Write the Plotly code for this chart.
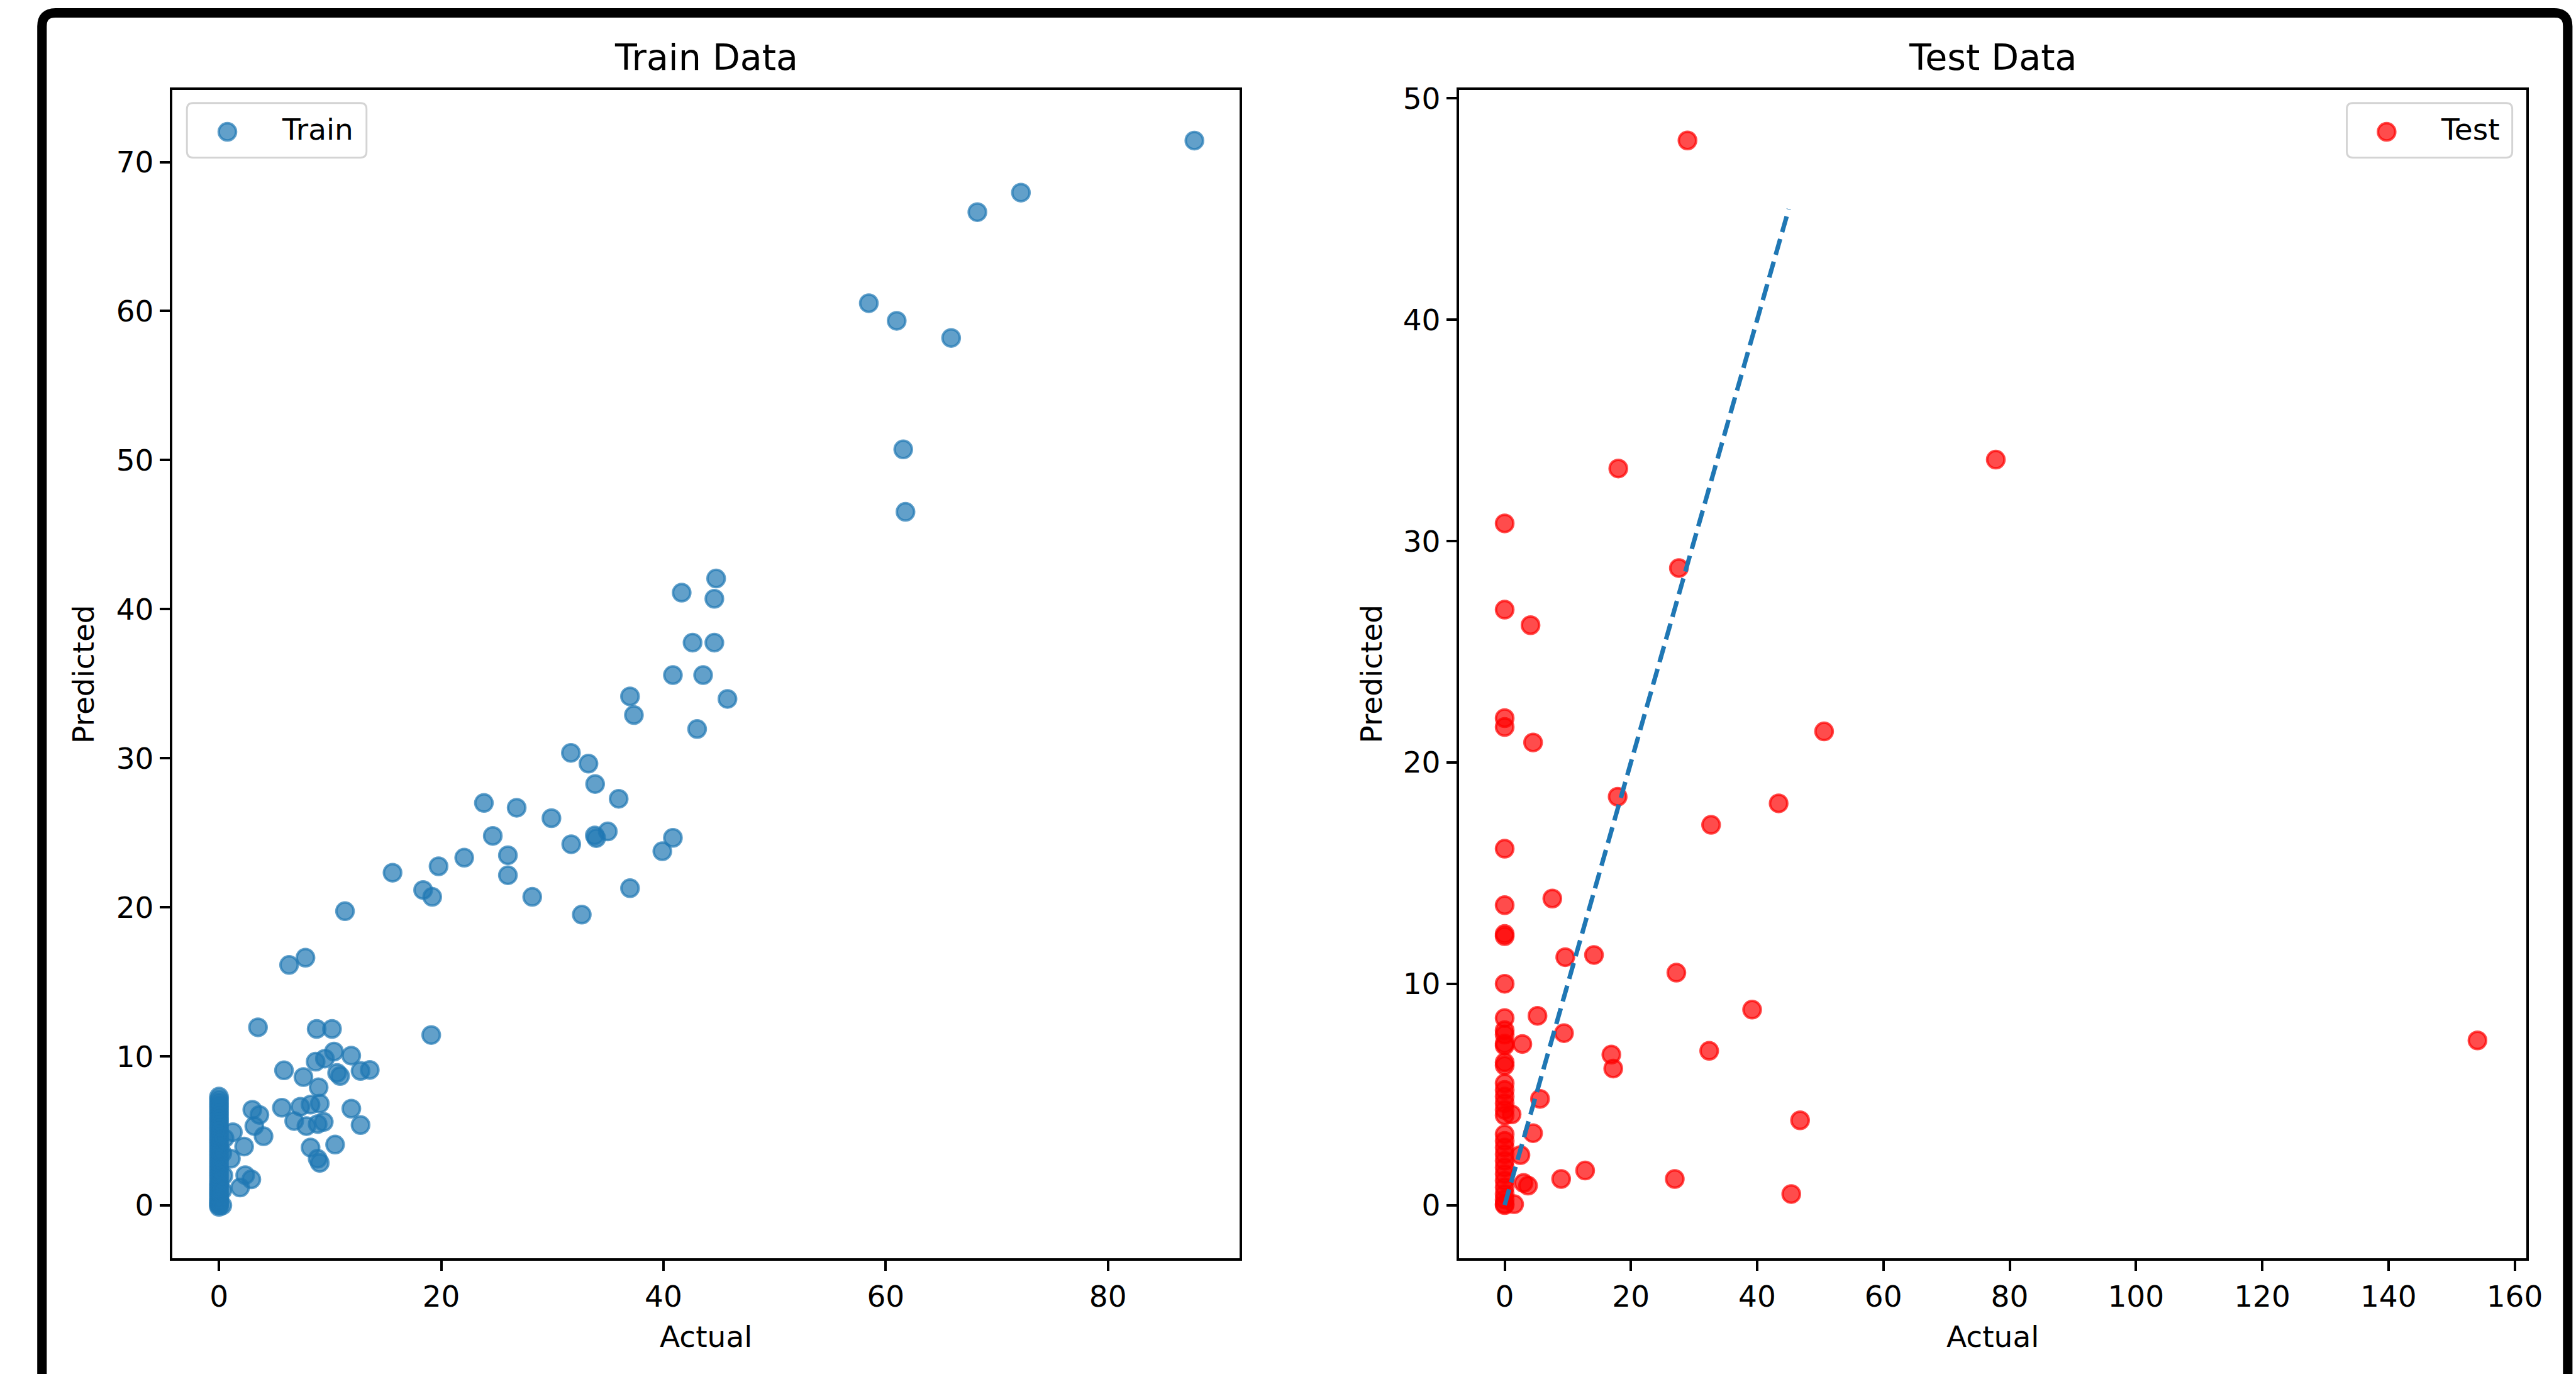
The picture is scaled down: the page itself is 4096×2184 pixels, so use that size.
import plotly.graph_objects as go

# ---------------- data ----------------
train_actual = [
    0, 0, 0, 0, 0, 0, 0, 0, 0, 0, 0, 0, 0, 0, 0, 0, 0, 0, 0, 0, 0,
    0, 0, 0, 0, 0, 0, 0, 0, 0, 0, 0, 0, 0, 0, 0, 0, 0, 0, 0, 0, 0,
    0.3, 0.3, 0.4, 0.3, 0.5,
    3.51, 8.79, 10.17, 19.1, 6.31, 7.78, 5.85, 7.6, 8.7, 9.53, 10.35, 11.9,
    10.63, 10.9, 12.74, 13.57, 8.97, 5.66, 7.32, 8.24, 9.07, 6.77, 7.87, 8.88,
    9.43, 11.91, 12.74, 8.24, 10.45, 9.07, 8.88, 3.0, 3.64, 3.18, 4.01, 2.26,
    1.25, 1.07, 2.36, 2.91, 1.9,
    44.74, 41.64, 44.58, 42.62, 44.58, 40.85, 43.57, 36.99, 45.76, 37.34, 43.03,
    31.67, 33.25, 33.85, 35.97, 23.84, 26.79, 29.92, 24.64, 33.82, 33.95, 34.99,
    31.7, 40.85, 39.9, 26.0, 22.07, 19.76, 15.62, 26.0, 18.37, 19.19, 28.19,
    36.99, 32.65, 11.34,
    87.78, 72.17, 68.25, 58.48, 60.99, 65.89, 61.58, 61.78,
]
train_predicted = [
    -0.1, 0.0, 0.1, 0.2, 0.3, 0.45, 0.6, 0.75, 0.9, 1.05, 1.2, 1.35, 1.5, 1.7,
    1.9, 2.1, 2.3, 2.5, 2.7, 2.9, 3.1, 3.3, 3.5, 3.7, 3.9, 4.1, 4.3, 4.5, 4.7,
    4.9, 5.1, 5.3, 5.5, 5.7, 5.9, 6.1, 6.3, 6.5, 6.7, 6.9, 7.1, 7.3,
    0.0, 1.0, 2.0, 3.5, 4.5,
    11.95, 11.84, 11.84, 11.43, 16.13, 16.62, 9.06, 8.61, 9.64, 9.85, 10.32, 10.05,
    8.89, 8.68, 9.02, 9.09, 7.92, 6.55, 6.62, 6.76, 6.83, 5.66, 5.32, 5.46,
    5.6, 6.49, 5.39, 3.88, 4.08, 2.85, 3.13, 6.42, 6.07, 5.32, 4.64, 3.95,
    4.91, 3.13, 2.03, 1.75, 1.2,
    42.06, 41.11, 40.7, 37.76, 37.76, 35.58, 35.58, 34.15, 33.98, 32.9, 31.96,
    30.36, 29.64, 28.27, 27.28, 27.0, 26.68, 25.98, 24.79, 24.82, 24.64, 25.09,
    24.23, 24.66, 23.76, 23.49, 23.33, 22.75, 22.32, 22.15, 21.16, 20.7, 20.7,
    21.28, 19.51, 19.74,
    71.44, 67.95, 66.64, 60.53, 59.35, 58.2, 50.72, 46.53,
]

test_actual = [
    0, 0, 0, 0, 0, 0, 0, 0, 0, 0, 0, 0, 0, 0, 0, 0, 0, 0, 0, 0, 0, 0, 0, 0,
    0, 0, 0, 0, 0, 0, 0, 0, 0, 0, 0,
    4.1, 4.5, 50.6, 17.9, 43.4, 32.7, 7.55, 9.6, 14.15, 27.2, 39.2, 5.2, 9.4,
    2.8, 16.9, 17.2, 32.4, 154.1, 1.1, 5.6, 46.8, 4.5, 2.5, 3.0, 3.7, 8.95,
    12.75, 26.95, 45.4, 1.5, 77.8, 28.96, 18.0, 27.6,
]
test_predicted = [
    30.8, 26.9, 22.0, 21.6, 16.1, 13.55, 12.25, 12.15, 10.0, 8.45, 7.9, 7.7,
    7.3, 7.2, 6.45, 6.3, 5.5, 5.2, 4.9, 4.6, 4.3, 4.05, 3.2, 2.9, 2.6, 2.3,
    2.0, 1.7, 1.4, 1.1, 0.8, 0.5, 0.25, 0.05, 0.0,
    26.2, 20.9, 21.4, 18.45, 18.15, 17.18, 13.85, 11.2, 11.3, 10.5, 8.83, 8.55,
    7.77, 7.28, 6.8, 6.17, 6.97, 7.44, 4.1, 4.8, 3.83, 3.25, 2.26, 1.0, 0.88,
    1.18, 1.56, 1.18, 0.5, 0.04, 33.68, 48.1, 33.28, 28.78,
]

diag_x = [0, 45]
diag_y = [0, 45]

train_xticks = [0, 20, 40, 60, 80]
train_yticks = [0, 10, 20, 30, 40, 50, 60, 70]
test_xticks = [0, 20, 40, 60, 80, 100, 120, 140, 160]
test_yticks = [0, 10, 20, 30, 40, 50]

# ---------------- geometry (reference px -> output) ----------------
RW, RH = 4203, 2241
W, H = 4096, 2184
S = W / RW
FONT = "DejaVu Sans"


def px(X):
    return X / RW


def py(Y):
    return 1 - Y / RH


LW = 4 * S            # spine width (output px)

# spine centre positions in reference px
L_x0, L_x1 = 279.5, 2024.5
R_x0, R_x1 = 2379.0, 4124.5
T_y, B_y = 144.7, 2054.0


def axis_range(p0, p1, zero_px, per_unit):
    return [(p0 - zero_px) / per_unit, (p1 - zero_px) / per_unit]


# inner domain edges (plotly draws axis lines outside the domain)
dLx0, dLx1 = L_x0 + 2 / S, L_x1 - 2 / S
dRx0, dRx1 = R_x0 + 2 / S, R_x1 - 2 / S
dTy, dBy = T_y + 2 / S, B_y - 2 / S

train_xr = axis_range(dLx0, dLx1, 357.3, 18.13)
train_yr = [(1966 - dBy) / 24.31, (1966 - dTy) / 24.31]
test_xr = axis_range(dRx0, dRx1, 2455.0, 10.3)
test_yr = [(1965.5 - dBy) / 36.1, (1965.5 - dTy) / 36.1]

blue = "#1f77b4"
blue_a = "rgba(31,119,180,0.7)"
red_a = "rgba(255,0,0,0.7)"
MS = 27.5
MLW = 4.0

fig = go.Figure()
fig.add_trace(go.Scatter(
    x=train_actual, y=train_predicted, mode="markers", name="Train",
    marker=dict(size=MS, color=blue_a, line=dict(color=blue_a, width=MLW)),
    xaxis="x", yaxis="y", showlegend=False))
fig.add_trace(go.Scatter(
    x=test_actual, y=test_predicted, mode="markers", name="Test",
    marker=dict(size=MS, color=red_a, line=dict(color=red_a, width=MLW)),
    xaxis="x2", yaxis="y2", showlegend=False))
fig.add_trace(go.Scatter(
    x=diag_x, y=diag_y, mode="lines",
    line=dict(color=blue, width=7.25 * S, dash=f"{26.8*S:.1f}px,{11.6*S:.1f}px"),
    xaxis="x2", yaxis="y2", showlegend=False))

tickfont = dict(family=FONT, size=47, color="black")
common = dict(showline=True, mirror=True, linecolor="black", linewidth=LW,
              ticks="outside", ticklen=17 * S, tickwidth=LW, tickcolor="black",
              showgrid=False, zeroline=False, tickfont=tickfont,
              tickmode="array", fixedrange=True, automargin=False)

fig.update_layout(
    width=W, height=H, margin=dict(l=0, r=0, t=0, b=0, pad=0, autoexpand=False),
    paper_bgcolor="white", plot_bgcolor="white", showlegend=False,
    xaxis=dict(domain=[px(dLx0), px(dLx1)], range=train_xr, anchor="y",
               tickvals=train_xticks, **common),
    yaxis=dict(domain=[py(dBy), py(dTy)], range=train_yr, anchor="x",
               tickvals=train_yticks, **common),
    xaxis2=dict(domain=[px(dRx0), px(dRx1)], range=test_xr, anchor="y2",
                tickvals=test_xticks, **common),
    yaxis2=dict(domain=[py(dBy), py(dTy)], range=test_yr, anchor="x2",
                tickvals=test_yticks, **common),
)

ann = []


def text(x, y, s, size, xanchor="center", angle=0):
    ann.append(dict(x=px(x), y=py(y), xref="paper", yref="paper", text=s,
                    showarrow=False, xanchor=xanchor, yanchor="middle",
                    textangle=angle,
                    font=dict(family=FONT, size=size, color="black")))


# titles
text((L_x0 + L_x1) / 2, 93, "Train Data", 57)
text((R_x0 + R_x1) / 2, 93, "Test Data", 57)
# axis labels
text((L_x0 + L_x1) / 2, 2180, "Actual", 47)
text((R_x0 + R_x1) / 2, 2180, "Actual", 47)
text(136, (T_y + B_y) / 2, "Predicted", 47, angle=-90)
text(2237, (T_y + B_y) / 2, "Predicted", 47, angle=-90)
# legend labels
text(458, 211, "Train", 47, xanchor="left")
text(3980, 211, "Test", 47, xanchor="left")

shapes = []


def rounded_rect(x0, y0, x1, y1, r):
    rx = r / RW
    ry = r / RH
    X0, X1 = px(x0), px(x1)
    Y0, Y1 = py(y0), py(y1)
    return (f"M{X0+rx},{Y0} L{X1-rx},{Y0} Q{X1},{Y0} {X1},{Y0-ry} "
            f"L{X1},{Y1+ry} Q{X1},{Y1} {X1-rx},{Y1} L{X0+rx},{Y1} "
            f"Q{X0},{Y1} {X0},{Y1+ry} L{X0},{Y0-ry} Q{X0},{Y0} {X0+rx},{Y0} Z")


for (x0, x1) in [(305, 598), (3829, 4099)]:
    shapes.append(dict(type="path", xref="paper", yref="paper",
                       path=rounded_rect(x0, 168, x1, 257, 10),
                       line=dict(color="#d4d4d4", width=3 * S),
                       fillcolor="rgba(255,255,255,0.8)", layer="above"))

for (cx, col) in [(371, blue_a), (3894, red_a)]:
    r = MS / 2
    shapes.append(dict(type="circle", xref="paper", yref="paper",
                       xsizemode="pixel", ysizemode="pixel",
                       xanchor=px(cx), yanchor=py(215),
                       x0=-r, x1=r, y0=-r, y1=r,
                       fillcolor=col, line=dict(color=col, width=MLW),
                       layer="above"))

# outer black frame (top + sides, rounded top corners)
fl, fr, ft, fb = 68.5, 4189.5, 21.0, 2300.0
rad = 22
frame = (f"M{px(fl)},{py(fb)} L{px(fl)},{py(ft+rad)} "
         f"Q{px(fl)},{py(ft)} {px(fl+rad)},{py(ft)} "
         f"L{px(fr-rad)},{py(ft)} Q{px(fr)},{py(ft)} {px(fr)},{py(ft+rad)} "
         f"L{px(fr)},{py(fb)}")
shapes.append(dict(type="path", xref="paper", yref="paper", path=frame,
                   line=dict(color="black", width=15.5 * S), layer="above"))

fig.update_layout(annotations=ann, shapes=shapes)
fig.write_html(
    "out.html",
    config={"displayModeBar": False},
    post_script="document.body.style.margin='0px';"
                "document.body.style.padding='0px';"
                "document.body.style.overflow='hidden';",
)
